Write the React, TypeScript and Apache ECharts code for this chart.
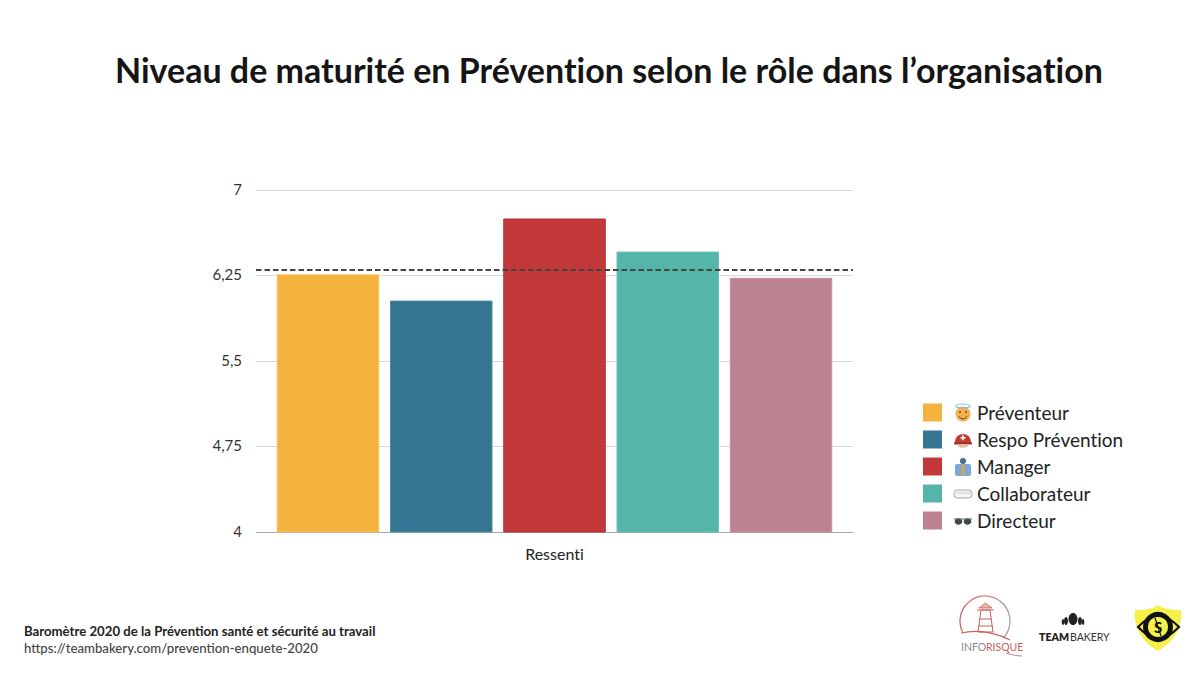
import React, { useEffect, useRef } from "react";
import * as echarts from "echarts";

const titleText = "Niveau de maturité en Prévention selon le rôle dans l’organisation";
const categories = ["Ressenti"];
const roles = ["Préventeur", "Respo Prévention", "Manager", "Collaborateur", "Directeur"];
const values = [6.26, 6.03, 6.75, 6.46, 6.23];
const colors = ["#F4B23F", "#347593", "#C33838", "#55B5A9", "#BC8291"];
const borders = ["#F6C060", "#4A8CA8", "#B32A2E", "#6CC0B5", "#C594A1"];
const average = 6.3;
const yTicks = [4, 4.75, 5.5, 6.25, 7];
const footer = [
  "Baromètre 2020 de la Prévention santé et sécurité au travail",
  "https://teambakery.com/prevention-enquete-2020",
];

const FONT = "Lato, 'Noto Sans', sans-serif";

echarts.graphic.registerShape(
  "shieldLogo",
  echarts.graphic.extendPath("M0 5 C10 5 18 4 23 0 C28 4 36 5 46 5 C48 22 39 37 23 46 C7 37 -2 22 0 5 Z", {})
);
echarts.graphic.registerShape(
  "eyeLogo",
  echarts.graphic.extendPath("M0 10 C8 2 14 -2 20.5 -2 C27 -2 33 2 41 10 C33 18 27 22 20.5 22 C14 22 8 18 0 10 Z", {})
);

function emojiIcons(): any[] {
  const x = 963;
  const ys = [413, 440, 467, 494, 521];
  return [
    // halo face
    { type: "circle", shape: { cx: x, cy: ys[0] + 1, r: 7.5 }, style: { fill: "#F2B14A" } },
    { type: "ellipse", shape: { cx: x, cy: ys[0] - 7, rx: 7, ry: 2 }, style: { fill: "none", stroke: "#8CB8E0", lineWidth: 1.2 } },
    { type: "circle", shape: { cx: x - 3, cy: ys[0] - 1, r: 0.9 }, style: { fill: "#6B4A1E" } },
    { type: "circle", shape: { cx: x + 3, cy: ys[0] - 1, r: 0.9 }, style: { fill: "#6B4A1E" } },
    { type: "arc", shape: { cx: x, cy: ys[0] + 2, r: 4, startAngle: 0.3, endAngle: 2.84 }, style: { stroke: "#6B4A1E", lineWidth: 1, fill: "none" } },
    // helmet
    { type: "sector", shape: { cx: x, cy: ys[1] + 2, r: 8, startAngle: Math.PI, endAngle: 2 * Math.PI }, style: { fill: "#BE3A32" } },
    { type: "rect", shape: { x: x - 9, y: ys[1] + 2, width: 18, height: 2.5, r: 1 }, style: { fill: "#A8322C" } },
    { type: "ellipse", shape: { cx: x, cy: ys[1] + 6, rx: 5, ry: 1.7 }, style: { fill: "#D9C2A8" } },
    { type: "rect", shape: { x: x - 2.5, y: ys[1] - 3, width: 5, height: 1.6 }, style: { fill: "#fff" } },
    { type: "rect", shape: { x: x - 0.8, y: ys[1] - 4.7, width: 1.6, height: 5 }, style: { fill: "#fff" } },
    // manager
    { type: "rect", shape: { x: x - 8, y: ys[2] - 3, width: 16, height: 12, r: 2 }, style: { fill: "#7FA6D6" } },
    { type: "circle", shape: { cx: x, cy: ys[2] - 6, r: 3.2 }, style: { fill: "#4E6E96" } },
    { type: "polygon", shape: { points: [[x - 1.5, ys[2] - 3], [x + 1.5, ys[2] - 3], [x + 2, ys[2] + 7], [x, ys[2] + 9], [x - 2, ys[2] + 7]] }, style: { fill: "#C9A860" } },
    // goggles
    { type: "rect", shape: { x: x - 9, y: ys[3] - 4, width: 18, height: 8, r: 3.5 }, style: { fill: "#F4F4F4", stroke: "#A8A8A8", lineWidth: 1 } },
    { type: "line", shape: { x1: x - 7, y1: ys[3] - 1, x2: x + 7, y2: ys[3] - 1 }, style: { stroke: "#C8C8C8", lineWidth: 1 } },
    // sunglasses
    { type: "ellipse", shape: { cx: x - 4.5, cy: ys[4] + 0.5, rx: 3.8, ry: 3.2 }, style: { fill: "#3C4A4C" } },
    { type: "ellipse", shape: { cx: x + 4.5, cy: ys[4] + 0.5, rx: 3.8, ry: 3.2 }, style: { fill: "#3C4A4C" } },
    { type: "line", shape: { x1: x - 9, y1: ys[4] - 2, x2: x + 9, y2: ys[4] - 2 }, style: { stroke: "#5C6466", lineWidth: 1 } },
  ];
}

function logos(): any[] {
  const red = "#C9605C";
  const ringStroke = new echarts.graphic.LinearGradient(0, 0, 1, 0, [
    { offset: 0, color: "#CF5A55" },
    { offset: 0.6, color: "#C98A88" },
    { offset: 1, color: "#9A9A9A" },
  ]);
  return [
    // Inforisque
    { type: "arc", shape: { cx: 985, cy: 621, r: 25, startAngle: 0.75, endAngle: 2.7, clockwise: false }, style: { fill: "none", stroke: ringStroke, lineWidth: 1.2 } },
    { type: "bezierCurve", shape: { x1: 961, y1: 633, cpx1: 975, cpy1: 630, cpx2: 990, cpy2: 630, x2: 1010, y2: 640 }, style: { fill: "none", stroke: red, lineWidth: 1.1 } },
    { type: "bezierCurve", shape: { x1: 1006, y1: 653, cpx1: 1012, cpy1: 655, cpx2: 1018, cpy2: 656, x2: 1022, y2: 656 }, style: { fill: "none", stroke: red, lineWidth: 0.8 } },
    { type: "polyline", shape: { points: [[981, 610], [990, 610], [993, 632], [978, 632], [981, 610]] }, style: { fill: "none", stroke: red, lineWidth: 1 } },
    { type: "polygon", shape: { points: [[985.5, 603], [992, 608], [979, 608]] }, style: { fill: "#E6B8B4", stroke: red, lineWidth: 0.8 } },
    { type: "polyline", shape: { points: [[977, 610], [994, 610]] }, style: { stroke: red, lineWidth: 1 } },
    { type: "polyline", shape: { points: [[979.5, 619], [991.5, 619]] }, style: { stroke: red, lineWidth: 1 } },
    { type: "polyline", shape: { points: [[978.5, 626], [992.5, 626]] }, style: { stroke: red, lineWidth: 1 } },
    { type: "text", x: 961, y: 647, style: { text: "INFO", font: `400 10.5px ${FONT}`, fill: "#888", textVerticalAlign: "middle" } },
    { type: "text", x: 986, y: 647, style: { text: "RISQUE", font: `400 10.5px ${FONT}`, fill: red, textVerticalAlign: "middle" } },
    // Team Bakery
    { type: "ellipse", shape: { cx: 1073, cy: 619, rx: 4.5, ry: 6 }, style: { fill: "#222" } },
    { type: "ellipse", shape: { cx: 1066, cy: 621, rx: 2, ry: 4 }, style: { fill: "#222" } },
    { type: "ellipse", shape: { cx: 1080, cy: 621, rx: 2, ry: 4 }, style: { fill: "#222" } },
    { type: "ellipse", shape: { cx: 1063, cy: 622, rx: 1.3, ry: 3 }, style: { fill: "#222" } },
    { type: "ellipse", shape: { cx: 1083, cy: 622, rx: 1.3, ry: 3 }, style: { fill: "#222" } },
    { type: "text", x: 1039, y: 637, style: { text: "TEAM", font: `800 10.5px ${FONT}`, fill: "#222", textVerticalAlign: "middle" } },
    { type: "text", x: 1070, y: 637, style: { text: "BAKERY", font: `400 10.5px ${FONT}`, fill: "#333", textVerticalAlign: "middle" } },
    // Shield
    { type: "shieldLogo", x: 1135, y: 605, style: { fill: "#F5F04A" } },
    { type: "eyeLogo", x: 1138, y: 617, style: { fill: "#F5F04A", stroke: "#111", lineWidth: 2.2 } },
    { type: "circle", shape: { cx: 1158, cy: 627, r: 12.5 }, style: { fill: "#F5F04A", stroke: "#111", lineWidth: 5 } },
    { type: "text", x: 1158, y: 627, style: { text: "S", font: `700 15px ${FONT}`, fill: "#111", textAlign: "center", textVerticalAlign: "middle" } },
    { type: "line", shape: { x1: 1155, y1: 618, x2: 1161, y2: 636 }, style: { stroke: "#111", lineWidth: 1.2 } },
  ];
}

export default function App() {
  const ref = useRef<HTMLDivElement>(null);
  useEffect(() => {
    const chart = echarts.init(ref.current!, undefined, { renderer: "svg" });
    chart.setOption({
      animation: false,
      backgroundColor: "#fff",
      title: {
        text: titleText,
        left: 115,
        top: 52,
        padding: 0,
        textStyle: { fontFamily: FONT, fontWeight: 700, fontSize: 34, color: "#151515" },
      },
      legend: {
        orient: "vertical",
        left: 923,
        top: 403,
        padding: 0,
        itemWidth: 19,
        itemHeight: 18,
        itemGap: 8,
        icon: "rect",
        data: roles,
        selectedMode: false,
        itemStyle: { borderWidth: 0 },
        textStyle: { fontFamily: FONT, fontSize: 19, lineHeight: 18, height: 18, color: "#222", padding: [0, 0, 1, 30] },
      },
      grid: { left: 256, right: 347, top: 190, bottom: 143 },
      xAxis: {
        type: "category",
        data: categories,
        axisLine: { lineStyle: { color: "#AAA", width: 1 } },
        axisTick: { show: false },
        axisLabel: { fontFamily: FONT, fontSize: 16, color: "#222", margin: 13 },
      },
      yAxis: {
        type: "value",
        min: 4,
        max: 7,
        axisLine: { show: false },
        axisTick: { show: false, customValues: yTicks },
        splitLine: { lineStyle: { color: "#D8D8D8", width: 1 } },
        axisLabel: {
          customValues: yTicks,
          fontFamily: FONT,
          fontSize: 15,
          color: "#333",
          margin: 14,
          verticalAlign: "bottom",
          lineHeight: 15,
          padding: [0, 0, -6, 0],
          formatter: (v: number) => String(v).replace(".", ","),
        },
      },
      series: roles.map((name, i) => ({
        name,
        type: "bar",
        data: [values[i]],
        barWidth: 102.5,
        barGap: "10.5%",
        itemStyle: { color: colors[i], borderColor: borders[i], borderWidth: 1 },
        ...(i === 0
          ? {
              markLine: {
                silent: true,
                symbol: "none",
                label: { show: false },
                lineStyle: { color: "#444", type: [5.5, 3], width: 2 },
                data: [{ yAxis: average }],
              },
            }
          : {}),
      })),
      graphic: [
        ...emojiIcons(),
        ...logos(),
        { type: "text", x: 24, y: 631, style: { text: footer[0], font: `700 13.2px ${FONT}`, fill: "#222", textVerticalAlign: "middle" } },
        { type: "text", x: 24, y: 648, style: { text: footer[1], font: `500 13.2px ${FONT}`, fill: "#444", textVerticalAlign: "middle" } },
      ],
    });
    return () => chart.dispose();
  }, []);
  return <div ref={ref} style={{ position: "fixed", left: 0, top: 0, width: 1200, height: 675, fontVariantLigatures: "none" }} />;
}
